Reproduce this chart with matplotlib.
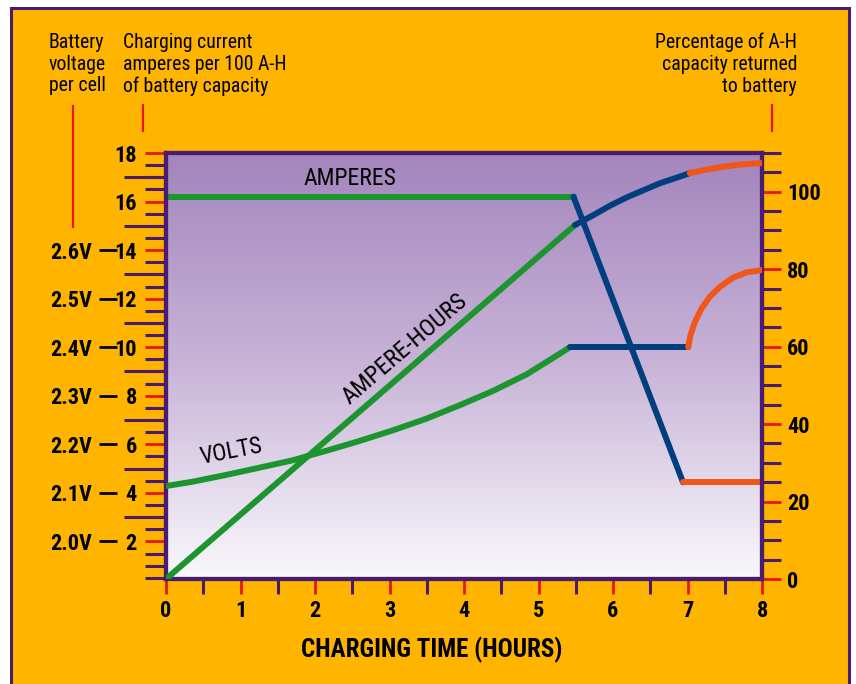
import os
import numpy as np
import matplotlib
matplotlib.use("Agg")
import matplotlib.pyplot as plt
from matplotlib import font_manager as fm
from matplotlib.colors import LinearSegmentedColormap
from matplotlib.patches import Rectangle
from matplotlib.lines import Line2D
from matplotlib.ticker import FixedLocator, MultipleLocator

# --- values ---
hour_ticks = [0, 1, 2, 3, 4, 5, 6, 7, 8]
amp_ticks = [2, 4, 6, 8, 10, 12, 14, 16, 18]
volt_ticks = [2.0, 2.1, 2.2, 2.3, 2.4, 2.5, 2.6]
volt_labels = ["2.0V", "2.1V", "2.2V", "2.3V", "2.4V", "2.5V", "2.6V"]
pct_ticks = [0, 20, 40, 60, 80, 100]

# charging current, amperes per 100 A-H
amps_hours = [0, 5.47, 6.94, 8.0]
amps = [16.2, 16.2, 4.43, 4.43]

# battery voltage per cell
volts_hours = [0, 0.36, 0.81, 1.26, 1.70, 1.95, 2.16, 2.60, 3.05, 3.50, 3.95,
               4.39, 4.84, 5.29, 5.42,
               7.01, 7.04, 7.10, 7.19, 7.30, 7.44, 7.61, 7.79, 8.0]
volts = [2.114, 2.123, 2.137, 2.152, 2.167, 2.178, 2.187, 2.207, 2.229, 2.253, 2.281,
         2.310, 2.344, 2.387, 2.400,
         2.400, 2.425, 2.452, 2.480, 2.504, 2.525, 2.543, 2.554, 2.559]

# percentage of A-H capacity returned
ah_hours = [0, 5.49, 5.74, 5.96, 6.18, 6.41, 6.63, 6.85, 7.03, 7.30, 7.53, 7.75, 8.0]
ah_pct = [0, 91.4, 94.0, 96.4, 98.5, 100.4, 102.2, 103.6, 104.8, 105.9, 106.6, 107.1, 107.4]

# index where each series switches colour (green -> blue -> orange)
amps_breaks = [0, 1, 2, 3]
volts_breaks = [0, 14, 15, 23]
ah_breaks = [0, 1, 8, 12]

ORANGE_BG = "#FFB500"
PURPLE = "#4A1D6C"
RED = "#E8141E"
GREEN = "#1C952F"
BLUE = "#003E7E"
ORANGE = "#F0561A"
seg_colors = [GREEN, BLUE, ORANGE]


# pick a narrow sans face if one is installed
def pick_font(bold):
    files = [f.fname for f in fm.fontManager.ttflist]
    prefs = ["LiberationSansNarrow", "RobotoCondensed", "OpenSansCondensed", "DejaVuSansCondensed"]
    for p in prefs:
        for fn in files:
            base = os.path.basename(fn).replace("-", "").replace("_", "")
            if not base.startswith(p):
                continue
            rest = base[len(p):].lower()
            if bold and rest.startswith("bold.") or (not bold and rest.startswith(("regular.", "."))):
                return fn
    return None


reg_file = pick_font(False)
bold_file = pick_font(True)


def fp(size, bold=False):
    f = bold_file if bold else reg_file
    if f:
        return fm.FontProperties(fname=f, size=size)
    return fm.FontProperties(family="DejaVu Sans", size=size,
                             weight="bold" if bold else "normal")


W, H = 856, 684
fig = plt.figure(figsize=(W / 100, H / 100), dpi=100)
fig.patch.set_facecolor("white")

# orange panel with purple frame
fig.add_artist(Rectangle((11 / W, -0.05), (849 - 11) / W, 1.05 - 8 / H,
                         transform=fig.transFigure, facecolor=ORANGE_BG,
                         edgecolor=PURPLE, lw=2.2, zorder=-5))

ax = fig.add_axes([166 / W, 1 - 579 / H, 596 / W, 426 / H])

# purple-to-white gradient background
grad_cmap = LinearSegmentedColormap.from_list("bg", ["#F9F8FC", "#C9B4D8", "#A385BC"])
ax.imshow(np.linspace(0, 1, 256).reshape(-1, 1), cmap=grad_cmap, origin="lower",
          extent=[0, 8, 0.45, 18], aspect="auto", zorder=0)
ax.set_xlim(0, 8)
ax.set_ylim(0.45, 18)

ax2 = ax.twinx()
ax2.set_ylim(0, 110)

axv = ax.twinx()
axv.set_ylim(1.9 + 0.45 / 20, 1.9 + 18 / 20)
axv.axis("off")


def draw(axis, x, y, breaks):
    for (a, b), c in zip(zip(breaks[:-1], breaks[1:]), seg_colors):
        axis.plot(x[a:b + 1], y[a:b + 1], color=c, lw=4.3,
                  solid_capstyle="round", solid_joinstyle="round", zorder=3)


draw(ax, amps_hours, amps, amps_breaks)
draw(axv, volts_hours, volts, volts_breaks)
draw(ax2, ah_hours, ah_pct, ah_breaks)

# curve labels
ax.text(2.47, 16.97, "AMPERES", ha="center", va="center", fontproperties=fp(17), zorder=4)
ax.text(3.2, 9.92, "AMPERE-HOURS", ha="center", va="center", fontproperties=fp(17.5),
        rotation=40.6, rotation_mode="anchor", zorder=4)
ax.text(0.87, 5.7, "VOLTS", ha="center", va="center", fontproperties=fp(17),
        rotation=11, rotation_mode="anchor", zorder=4)

# frame
for a in (ax, ax2):
    for s in a.spines.values():
        s.set_color(PURPLE)
        s.set_linewidth(3)

# x axis ticks
ax.xaxis.set_major_locator(FixedLocator(hour_ticks))
ax.xaxis.set_minor_locator(MultipleLocator(0.5))
ax.tick_params(axis="x", which="major", length=11, width=2, color=RED, pad=4)
ax.tick_params(axis="x", which="minor", length=11, width=2.2, color=PURPLE)

# left axis ticks
ax.yaxis.set_major_locator(FixedLocator(amp_ticks))
ax.yaxis.set_minor_locator(FixedLocator([v / 2 for v in range(1, 36) if v % 4 != 0]))
ax.tick_params(axis="y", which="major", length=15, width=2, color=RED, pad=6)
ax.tick_params(axis="y", which="minor", length=15, width=2.2, color=PURPLE)

# long ticks on odd amperes
long_ax = ax.secondary_yaxis("left")
long_ax.set_yticks(list(range(3, 18, 2)))
long_ax.tick_params(length=30, width=2.2, color=PURPLE, labelleft=False)
long_ax.spines["left"].set_visible(False)

# volts per cell scale with dashes
volt_ax = ax.secondary_yaxis(-0.082, functions=(lambda a: 1.9 + a / 20,
                                                 lambda v: (v - 1.9) * 20))
volt_ax.set_yticks(volt_ticks)
volt_ax.set_yticklabels(volt_labels)
volt_ax.tick_params(length=13, width=2, color="black", pad=5)
volt_ax.spines["left"].set_visible(False)

# right axis ticks
ax2.yaxis.set_major_locator(FixedLocator(pct_ticks))
ax2.yaxis.set_minor_locator(MultipleLocator(5))
ax2.tick_params(axis="y", which="major", length=14, width=2, color=RED, pad=4)
ax2.tick_params(axis="y", which="minor", length=14, width=2.2, color=PURPLE)

for lab in (ax.get_xticklabels() + ax.get_yticklabels() + ax2.get_yticklabels()
            + volt_ax.get_yticklabels()):
    lab.set_fontproperties(fp(16, bold=True))

ax.set_xlabel("CHARGING TIME (HOURS)", fontproperties=fp(18, bold=True))
ax.xaxis.set_label_coords(0.446, -0.135)

# axis captions
cap = dict(va="top", fontproperties=fp(14.2), linespacing=1.18)
fig.text(49 / W, 1 - 33 / H, "Battery\nvoltage\nper cell", ha="left", **cap)
fig.text(123 / W, 1 - 33 / H, "Charging current\namperes per 100 A-H\nof battery capacity",
         ha="left", **cap)
fig.text(797 / W, 1 - 33 / H, "Percentage of A-H\ncapacity returned\nto battery",
         ha="right", multialignment="right", **cap)

# red pointer lines
for x0, y0, y1 in [(73, 106, 227), (143, 105, 131), (772, 105, 131)]:
    fig.add_artist(Line2D([x0 / W, x0 / W], [1 - y0 / H, 1 - y1 / H],
                          transform=fig.transFigure, color=RED, lw=1.6))

fig.savefig("out.png", dpi=100)
